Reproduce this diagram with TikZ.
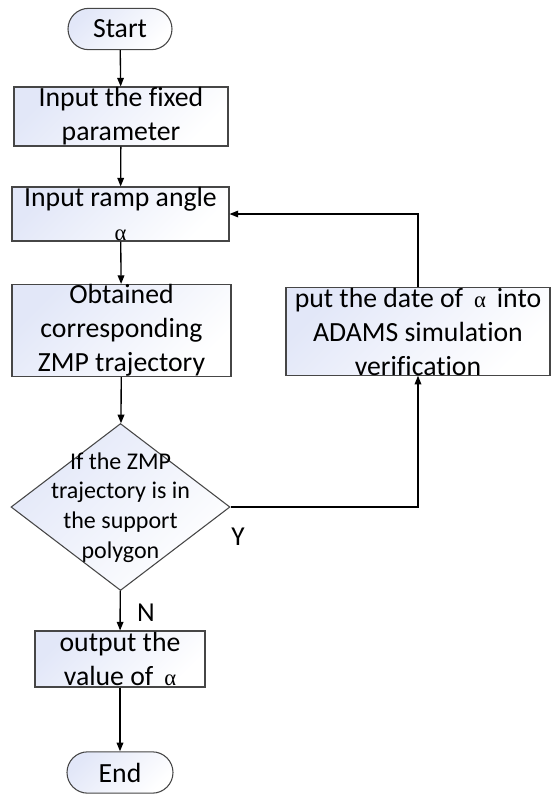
\documentclass[tikz,border=0pt]{standalone}
\usepackage{fontspec}
\setmainfont{Carlito}[Ligatures=CommonOff]
\newfontfamily\alphafont{Liberation Serif}
\usetikzlibrary{arrows.meta,shapes.geometric}
\definecolor{gl}{RGB}{226,231,248}
\definecolor{bd}{RGB}{70,70,70}
\newcommand{\alp}{{\alphafont\fontsize{17}{20}\selectfont α}}
\tikzset{
  boxtext/.style={font=\fontsize{20.8}{25.5}\selectfont, align=center},
  shadefill/.style={left color=gl, right color=white, shading angle=45},
  procbox/.style={draw=bd, line width=0.8pt, rectangle, shadefill, inner sep=0pt, boxtext},
  termbox/.style={draw=bd, line width=0.8pt, rectangle, rounded corners=15.5pt, shadefill, inner sep=0pt, minimum height=31pt, boxtext},
  decbox/.style={draw=bd, line width=0.8pt, diamond, shadefill, inner sep=0pt},
  dectext/.style={font=\fontsize{18}{22.2}\selectfont, align=center, inner sep=0pt},
  flow/.style={draw=black, line width=1pt, -{Triangle[length=6.5pt,width=5pt]}},
  lbl/.style={font=\fontsize{20.5}{24}\selectfont, inner sep=0pt}
}
\begin{document}
\begin{tikzpicture}[x=0.75pt,y=-0.75pt]
\useasboundingbox (0,0) rectangle (551,794);
\node[termbox, minimum width=78pt] (start) at (120,29) {Start};
\node[procbox, minimum width=160.5pt, minimum height=44.25pt] (b1) at (121,116.5) {Input the fixed\\parameter};
\node[procbox, minimum width=162.75pt, minimum height=40.5pt] (b2) at (120.5,214) {Input ramp angle\\\alp};
\node[procbox, minimum width=164.25pt, minimum height=66.75pt] (b3) at (121.5,330.5) {Obtained\\corresponding\\ZMP trajectory};
\node[procbox, minimum width=198pt, minimum height=65.25pt] (rb) at (418,331.5) {put the date of \,\alp\, into\\ADAMS simulation\\verification};
\node[decbox, minimum width=164.25pt, minimum height=125.25pt] (d) at (120.5,507) {};
\node[dectext] (dt) at (120.5,507.5) {If the ZMP\\trajectory is in\\the support\\polygon};
\node[procbox, minimum width=127.5pt, minimum height=42pt] (b4) at (120,659) {output the\\value of \,\alp};
\node[termbox, minimum width=79.5pt] (end) at (120,772.5) {End};
\node[lbl] (ly) at (238,537) {Y};
\node[lbl] (ln) at (146,613) {N};
\draw[flow] (start) -- (b1);
\draw[flow] (b1) -- (b2);
\draw[flow] (b2) -- (b3);
\draw[flow] (b3) -- (d);
\draw[flow] (d) -- (b4);
\draw[flow] (b4) -- (end);
\draw[flow] (d.east) -| (rb.south);
\draw[flow] (rb.north) |- (b2.east);
\end{tikzpicture}
\end{document}
